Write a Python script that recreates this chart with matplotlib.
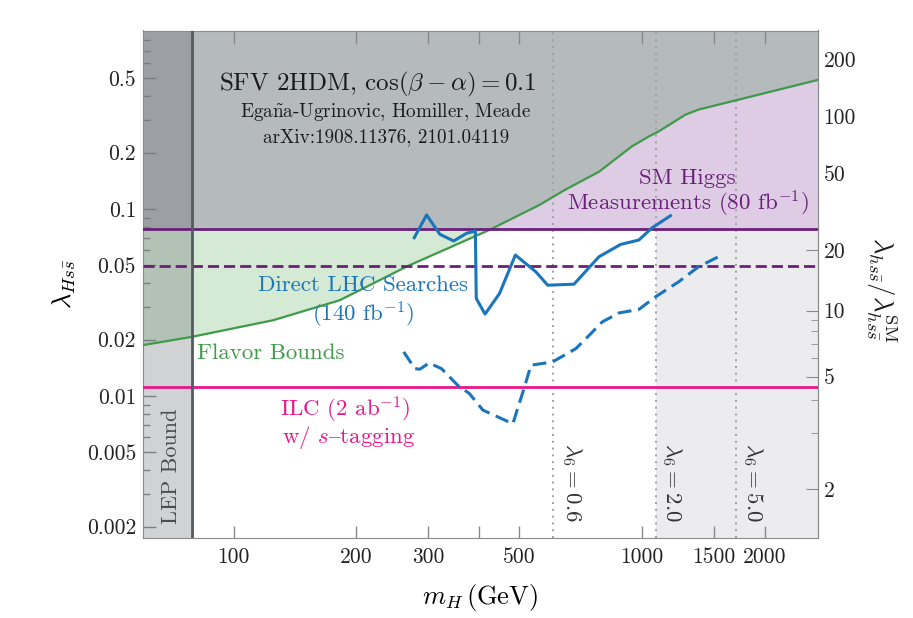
import matplotlib
matplotlib.use("Agg")
import matplotlib.pyplot as plt
import numpy as np
from matplotlib.ticker import NullFormatter

plt.rcParams["font.family"] = ["cmr10", "DejaVu Serif"]
plt.rcParams["mathtext.fontset"] = "cm"
plt.rcParams["axes.formatter.use_mathtext"] = True

# flavor bound (green curve), m_H in GeV vs lambda_Hss
flavor_mass = [60, 79, 125, 182, 267, 423, 561, 646, 785, 945, 1040, 1100, 1278, 1377, 1724, 2700]
flavor_lam = [0.0187, 0.0207, 0.0254, 0.0325, 0.0495, 0.0772, 0.105, 0.126, 0.158,
              0.216, 0.244, 0.26, 0.319, 0.34, 0.384, 0.49]

# direct LHC searches, 140 fb^-1 (solid blue)
lhc_mass = [277, 297, 320, 346, 372, 391, 393, 413, 448, 490, 550, 588, 682, 785, 887, 983, 1058, 1175]
lhc_lam = [0.0702, 0.0929, 0.0732, 0.0674, 0.0741, 0.0762, 0.0332, 0.0274, 0.0353, 0.0567,
           0.0461, 0.0391, 0.0396, 0.0555, 0.0646, 0.0682, 0.0791, 0.092]

# projected LHC searches (dashed blue)
proj_mass = [261, 278, 286, 301, 323, 354, 378, 408, 483, 516, 535, 604, 689, 743, 800,
             879, 983, 1080, 1231, 1377, 1570]
proj_lam = [0.0172, 0.0140, 0.0139, 0.0150, 0.0140, 0.0114, 0.0103, 0.0084, 0.0071, 0.0112,
            0.0146, 0.0152, 0.0179, 0.0211, 0.0249, 0.0278, 0.0290, 0.0339, 0.0408, 0.0491, 0.0567]

sm_higgs_now = 0.078      # SM Higgs measurements, 80 fb^-1
sm_higgs_future = 0.0497  # dashed purple
ilc_bound = 0.0111        # ILC 2 ab^-1 with s-tagging
lep_mass = 79
lambda6_mass = [607, 1083, 1702]
lambda6_labels = ["0.6", "2.0", "5.0"]
ratio_scale = 315.0       # lambda_hss/lambda_hss^SM = 1 + ratio_scale * lambda_Hss

x_min, x_max = 60, 2700
y_min, y_max = 0.00175, 0.9

GRAY = "#b5babc"
GREEN = "#3f9a4a"
PURPLE = "#6b1f7b"
BLUE = "#1a75bb"
MAGENTA = "#e8168a"
AXCOL = "#8a8a8a"
LBL = 16.5

fig = plt.figure(figsize=(9.13, 6.18), dpi=100)
ax = fig.add_axes([143 / 913, 1 - 537.5 / 618, 675 / 913, 507 / 618])
ax.set_xscale("log")
ax.set_yscale("log")
ax.set_xlim(x_min, x_max)
ax.set_ylim(y_min, y_max)

fm = np.array(flavor_mass)
fl = np.array(flavor_lam)

# shaded regions
ax.axvspan(lambda6_mass[1], x_max, color="#ececef", lw=0, zorder=0)
ax.fill_between(fm, fl, y_max, color="#d4ead5", lw=0, zorder=1)
ax.axhspan(sm_higgs_now, y_max, color="#ddcce4", lw=0, zorder=1)
ax.fill_between(fm, np.maximum(fl, sm_higgs_now), y_max, color=GRAY, lw=0, zorder=1.5)
ax.axvspan(x_min, lep_mass, color="#5c6066", alpha=0.28, lw=0, zorder=2)
ax.axvline(lep_mass, color="#555a5e", lw=2, zorder=4)

for m in lambda6_mass:
    ax.axvline(m, color="#a0a0a0", ls=(0, (1, 2.5)), lw=1.4, zorder=2.5)

# bound lines
ax.plot(fm, fl, color=GREEN, lw=1.6, zorder=3)
ax.axhline(sm_higgs_now, color=PURPLE, lw=2, zorder=3)
ax.axhline(sm_higgs_future, color=PURPLE, lw=2, ls=(0, (4, 1.8)), zorder=3)
ax.axhline(ilc_bound, color=MAGENTA, lw=2, zorder=3)
ax.plot(lhc_mass, lhc_lam, color=BLUE, lw=2.2, zorder=3.5)
ax.plot(proj_mass, proj_lam, color=BLUE, lw=2.2, ls=(0, (4.5, 2.2)), zorder=3.5)

# ticks
xt = [100, 200, 300, 400, 500, 1000, 1500, 2000]
ax.set_xticks(xt, ["100", "200", "300", "", "500", "1000", "1500", "2000"])
ax.xaxis.set_minor_locator(plt.NullLocator())
yt = [0.002, 0.005, 0.01, 0.02, 0.05, 0.1, 0.2, 0.5]
ax.set_yticks(yt, ["0.002", "0.005", "0.01", "0.02", "0.05", "0.1", "0.2", "0.5"])
ymin_t = [k * 10.0 ** e for e in (-3, -2, -1) for k in (3, 4, 6, 7, 8, 9)]
ax.set_yticks([v for v in ymin_t if y_min < v < y_max], minor=True)
ax.yaxis.set_minor_formatter(NullFormatter())
ax.tick_params(which="both", direction="in", top=True, right=False, color=AXCOL,
               labelsize=15.5, labelcolor="#222222", width=1)
ax.tick_params(which="major", length=9)
ax.tick_params(axis="y", which="major", pad=5)
ax.tick_params(axis="x", which="major", pad=7)
ax.tick_params(which="minor", length=5)
for s in ax.spines.values():
    s.set_color(AXCOL)

sec = ax.secondary_yaxis("right", functions=(lambda v: 1 + ratio_scale * v,
                                             lambda r: (r - 1) / ratio_scale))
sec.set_yticks([2, 5, 10, 20, 50, 100, 200], ["2", "5", "10", "20", "50", "100", "200"])
sec.set_yticks([3, 4, 6, 7, 8, 9, 30, 40, 60, 70, 80, 90], minor=True)
sec.yaxis.set_minor_formatter(NullFormatter())
sec.tick_params(which="both", direction="in", color=AXCOL, labelsize=15.5, labelcolor="#222222")
sec.tick_params(which="major", length=9, pad=4)
sec.tick_params(which="minor", length=5)
sec.spines["right"].set_color(AXCOL)

# axis labels
ax.set_xlabel(r"$m_H\,(\mathrm{GeV})$", fontsize=19)
ax.xaxis.set_label_coords(0.5, -0.119)
ax.xaxis.label.set_va("center")
ax.set_ylabel(r"$\lambda_{Hs\bar{s}}$", fontsize=19)
ax.yaxis.set_label_coords(-0.117, 0.5)
ax.yaxis.label.set_va("center")
fig.text(882 / 913, 1 - 290 / 618, r"$\lambda_{hs\bar{s}}/\lambda_{hs\bar{s}}^{\mathrm{SM}}$",
         fontsize=19, rotation=270, ha="center", va="center", color="#1a1a1a")

# annotations
tr = ax.transAxes
ax.text(0.348, 0.894, r"SFV 2HDM, $\cos(\beta-\alpha)=0.1$", transform=tr, ha="center",
        va="center", fontsize=18, color="#1a1a1a", zorder=5)
ax.text(0.360, 0.839, r"Ega$\tilde{\mathrm{n}}$a-Ugrinovic, Homiller, Meade", transform=tr,
        ha="center", va="center", fontsize=13.8, color="#1a1a1a", zorder=5)
ax.text(0.360, 0.789, "arXiv:1908.11376, 2101.04119", transform=tr, ha="center",
        va="center", fontsize=13.8, color="#1a1a1a", zorder=5)
ax.text(0.807, 0.709, "SM Higgs", transform=tr, ha="center", va="center", fontsize=LBL,
        color=PURPLE, zorder=5)
ax.text(0.807, 0.658, r"Measurements (80 fb$^{-1}$)", transform=tr, ha="center",
        va="center", fontsize=LBL, color=PURPLE, zorder=5)
ax.text(0.326, 0.498, "Direct LHC Searches", transform=tr, ha="center", va="center",
        fontsize=LBL, color=BLUE, zorder=5)
ax.text(0.326, 0.439, r"(140 fb$^{-1}$)", transform=tr, ha="center", va="center",
        fontsize=LBL, color=BLUE, zorder=5)
ax.text(0.080, 0.363, "Flavor Bounds", transform=tr, ha="left", va="center",
        fontsize=LBL, color=GREEN, zorder=5)
ax.text(0.30, 0.251, r"ILC (2 ab$^{-1}$)", transform=tr, ha="center", va="center",
        fontsize=LBL, color=MAGENTA, zorder=5)
ax.text(0.305, 0.198, r"w/ $s\mathrm{–}$tagging", transform=tr, ha="center", va="center",
        fontsize=LBL, color=MAGENTA, zorder=5)
ax.text(0.0415, 0.14, "LEP Bound", transform=tr, ha="center", va="center", rotation=90,
        fontsize=16, color="#4a4d50", zorder=5)
for xa, lab in zip([0.635, 0.783, 0.904], lambda6_labels):
    ax.text(xa, 0.109, r"$\lambda_6 = %s$" % lab, transform=tr, ha="center", va="center",
            rotation=270, fontsize=LBL, color="#333333", zorder=5)

fig.savefig("out.png", dpi=100, facecolor="white")
